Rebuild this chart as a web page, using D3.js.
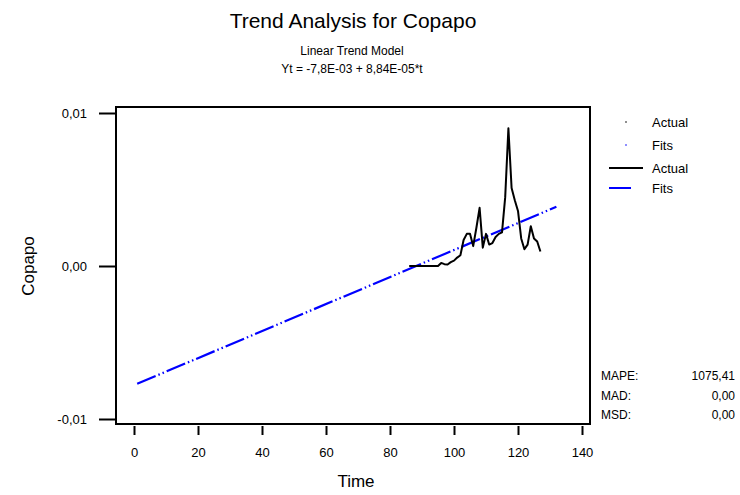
<!DOCTYPE html>
<html>
<head>
<meta charset="utf-8">
<script src="https://cdn.jsdelivr.net/npm/d3@7"></script>
<style>
  body { margin: 0; background: #fff; }
  svg { display: block; }
  text { font-family: Arial, "Liberation Sans", sans-serif; fill: #000; }
  .axis path.domain { display: none; }
  .axis line { stroke: #000; stroke-width: 2; }
  .axis text { font-size: 13px; }
</style>
</head>
<body>
<svg id="chart" width="740" height="495"></svg>
<script>
// time ticks and value ticks
const xTicks = [0, 20, 40, 60, 80, 100, 120, 140];
const yTicks = [-0.01, 0, 0.01];

// actual series, starting at t = 86
const actualStart = 86;
const actualValues = [
  0, 0, 0, 0, 0, 0, 0, 0, 0, 0,
  0.0002, 0.00012, 0.0001, 0.00025, 0.00035, 0.00055, 0.0007, 0.0017, 0.0021, 0.0021,
  0.0013, 0.0025, 0.0038, 0.0012, 0.0021, 0.0014, 0.0015, 0.0019, 0.0021, 0.0022,
  0.0045, 0.0090, 0.0051, 0.0043, 0.0036, 0.0018, 0.0011, 0.0014, 0.0026, 0.0018,
  0.0016, 0.00095
];

// fitted trend line end points
const fitTimes = [1, 132];
const fitValues = [-0.0077, 0.00387];

// accuracy measures
const statLabels = ['MAPE:', 'MAD:', 'MSD:'];
const statValues = ['1075,41', '0,00', '0,00'];

const legendLabels = ['Actual', 'Fits', 'Actual', 'Fits'];

const svg = d3.select('#chart');
const commaFmt = d3.formatLocale({ decimal: ',', thousands: '.', grouping: [3], currency: ['', ''], minus: '-' });

// scales
const x = d3.scaleLinear().domain([0, 140]).range([134, 582]);
const y = d3.scaleLinear().domain([-0.01, 0.01]).range([419, 113]);

// frame
const box = { left: 116, right: 590, top: 107, bottom: 424 };
svg.append('rect')
  .attr('x', box.left).attr('y', box.top)
  .attr('width', box.right - box.left).attr('height', box.bottom - box.top)
  .attr('fill', 'none').attr('stroke', '#000').attr('stroke-width', 2);

// axes
svg.append('g')
  .attr('class', 'axis')
  .attr('transform', 'translate(0,426)')
  .call(d3.axisBottom(x).tickValues(xTicks).tickSize(9).tickPadding(13).tickFormat(d3.format('d')));

svg.append('g')
  .attr('class', 'axis')
  .attr('transform', `translate(${box.left},0)`)
  .call(d3.axisLeft(y).tickValues(yTicks).tickSize(17).tickPadding(12).tickFormat(commaFmt.format('.2f')));

// fits line
const fitData = fitTimes.map((t, i) => ({ t, v: fitValues[i] }));
const line = d3.line().x(d => x(d.t)).y(d => y(d.v));

svg.append('path')
  .datum(fitData)
  .attr('d', line)
  .attr('fill', 'none')
  .attr('stroke', '#0000ff')
  .attr('stroke-width', 2.2)
  .attr('stroke-dasharray', '20,3,1.5,3,1.5,3');

// actual line
const actualData = actualValues.map((v, i) => ({ t: actualStart + i, v }));
svg.append('path')
  .datum(actualData)
  .attr('d', line)
  .attr('fill', 'none')
  .attr('stroke', '#000')
  .attr('stroke-width', 2)
  .attr('stroke-linejoin', 'round');

// titles
svg.append('text').attr('x', 353).attr('y', 28)
  .attr('text-anchor', 'middle').style('font-size', '21px')
  .text('Trend Analysis for Copapo');
svg.append('text').attr('x', 352).attr('y', 55)
  .attr('text-anchor', 'middle').style('font-size', '12px')
  .text('Linear Trend Model');
svg.append('text').attr('x', 352).attr('y', 73)
  .attr('text-anchor', 'middle').style('font-size', '12px')
  .text('Yt = -7,8E-03 + 8,84E-05*t');

// axis titles
svg.append('text').attr('x', 356).attr('y', 487)
  .attr('text-anchor', 'middle').style('font-size', '17px')
  .text('Time');
svg.append('text')
  .attr('transform', 'translate(34,266) rotate(-90)')
  .attr('text-anchor', 'middle').style('font-size', '17px')
  .text('Copapo');

// legend
const legendY = [122, 145, 168, 188];
const legend = svg.append('g');
legendLabels.forEach((label, i) => {
  const g = legend.append('g').attr('transform', `translate(0,${legendY[i]})`);
  if (i < 2) {
    g.append('circle').attr('cx', 626).attr('cy', 0).attr('r', 0.8)
      .attr('fill', i === 0 ? '#000' : '#0000ff');
  } else {
    g.append('line')
      .attr('x1', 609).attr('x2', i === 2 ? 643 : 631)
      .attr('stroke', i === 2 ? '#000' : '#0000ff').attr('stroke-width', 2);
  }
  g.append('text').attr('x', 652).attr('dy', '0.35em')
    .style('font-size', '13px').text(label);
});

// accuracy measures
statLabels.forEach((label, i) => {
  const yy = 376 + i * 19.5;
  svg.append('text').attr('x', 601).attr('y', yy).attr('dy', '0.35em')
    .style('font-size', '12px').text(label);
  svg.append('text').attr('x', 735).attr('y', yy).attr('dy', '0.35em')
    .attr('text-anchor', 'end').style('font-size', '12px').text(statValues[i]);
});
</script>
</body>
</html>
